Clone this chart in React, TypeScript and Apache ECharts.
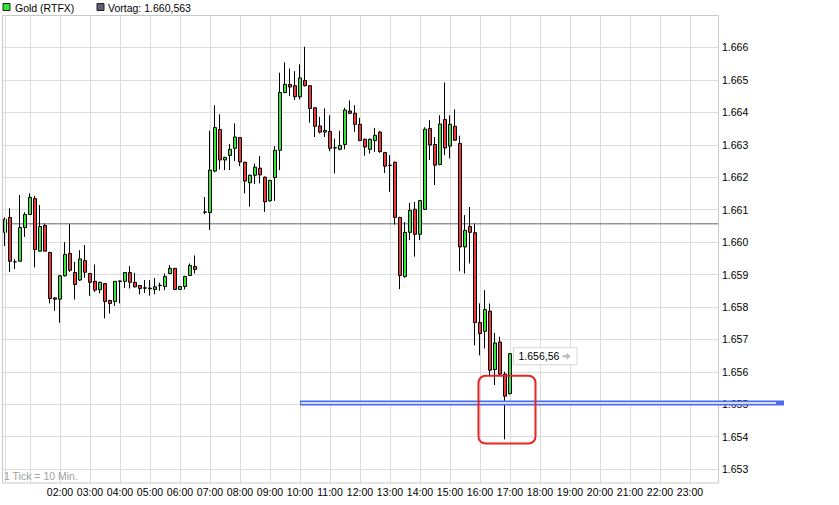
import React, { useEffect, useRef } from 'react';
import * as echarts from 'echarts';

// ---- Data (10-minute candles, Gold RTFX) ----
const times = [
  '00:10','00:20','00:30','00:40','00:50','01:00','01:10','01:20','01:30','01:40','01:50',
  '02:00','02:10','02:20','02:30','02:40','02:50','03:00','03:10','03:20','03:30','03:40','03:50',
  '04:00','04:10','04:20','04:30','04:40','04:50','05:00','05:10','05:20','05:30','05:40','05:50',
  '06:00','06:10','06:20','06:30','06:50',
  '07:00','07:10','07:20','07:30','07:40','07:50','08:00','08:10','08:20','08:30','08:40','08:50',
  '09:00','09:10','09:20','09:30','09:40','09:50','10:00','10:10','10:20','10:30','10:40','10:50',
  '11:00','11:10','11:20','11:30','11:40','11:50','12:00','12:10','12:20','12:30','12:40','12:50',
  '13:00','13:10','13:20','13:30','13:40','13:50','14:00','14:10','14:20','14:30','14:40','14:50',
  '15:00','15:10','15:20','15:30','15:40','15:50','16:00','16:10','16:20','16:30','16:40','16:50',
  '17:00'
];
const opens = [
  1.66030,1.66076,1.65939,1.65941,1.66045,1.66085,1.66134,1.65972,1.66051,1.65968,1.65828,
  1.65824,1.65896,1.65965,1.65906,1.65883,1.65943,1.65903,1.65879,1.65853,1.65872,1.65820,1.65817,
  1.65879,1.65879,1.65906,1.65876,1.65866,1.65859,1.65858,1.65854,1.65866,1.65863,1.65903,1.65919,
  1.65854,1.65863,1.65897,1.65925,1.66092,
  1.66091,1.66219,1.66347,1.66253,1.66267,1.66289,1.66322,1.66246,1.66183,1.66206,1.66228,1.66200,
  1.66127,1.66199,1.66283,1.66461,1.66486,1.66482,1.66448,1.66498,1.66482,1.66414,1.66358,1.66339,
  1.66341,1.66290,1.66286,1.66301,1.66404,1.66397,1.66363,1.66317,1.66286,1.66313,1.66339,1.66276,
  1.66236,1.66246,1.66076,1.65894,1.66030,1.66101,1.66024,1.66101,1.66350,1.66301,1.66239,1.66378,
  1.66296,1.66357,1.66304,1.65985,1.66048,1.66029,1.65752,1.65725,1.65787,1.65607,1.65692,1.65593,
  1.65533
];
const closes = [
  1.66070,1.65941,1.65939,1.66045,1.66085,1.66138,1.65977,1.66048,1.65972,1.65826,1.65824,
  1.65896,1.65962,1.65913,1.65869,1.65948,1.65907,1.65876,1.65852,1.65876,1.65817,1.65811,1.65879,
  1.65880,1.65906,1.65876,1.65862,1.65857,1.65858,1.65856,1.65862,1.65867,1.65894,1.65919,1.65854,
  1.65863,1.65894,1.65928,1.65916,1.66093,
  1.66222,1.66353,1.66253,1.66261,1.66286,1.66324,1.66247,1.66188,1.66206,1.66231,1.66207,1.66124,
  1.66190,1.66283,1.66461,1.66486,1.66478,1.66448,1.66506,1.66482,1.66412,1.66357,1.66339,1.66344,
  1.66289,1.66291,1.66298,1.66407,1.66397,1.66363,1.66313,1.66293,1.66317,1.66329,1.66279,1.66234,
  1.66237,1.66076,1.65897,1.66030,1.66098,1.66024,1.66128,1.66348,1.66299,1.66237,1.66364,1.66290,
  1.66363,1.66314,1.65985,1.66036,1.66030,1.65752,1.65718,1.65792,1.65605,1.65689,1.65593,1.65525,
  1.65656
];
const lows = [
  1.65988,1.65908,1.65917,1.65941,1.66016,1.66085,1.65922,1.65972,1.65972,1.65811,1.65788,
  1.65751,1.65894,1.65908,1.65823,1.65880,1.65890,1.65834,1.65846,1.65842,1.65765,1.65780,1.65803,
  1.65811,1.65859,1.65857,1.65860,1.65839,1.65843,1.65835,1.65839,1.65850,1.65852,1.65901,1.65852,
  1.65852,1.65854,1.65895,1.65903,1.66086,
  1.66037,1.66215,1.66224,1.66222,1.66222,1.66250,1.66234,1.66150,1.66109,1.66179,1.66181,1.66093,
  1.66125,1.66127,1.66222,1.66459,1.66450,1.66438,1.66440,1.66480,1.66368,1.66324,1.66335,1.66324,
  1.66280,1.66212,1.66283,1.66286,1.66395,1.66340,1.66311,1.66266,1.66273,1.66278,1.66275,1.66213,
  1.66155,1.66054,1.65855,1.65890,1.66006,1.65955,1.66006,1.66099,1.66253,1.66176,1.66237,1.66268,
  1.66258,1.66312,1.65910,1.65903,1.65934,1.65682,1.65651,1.65672,1.65590,1.65559,1.65590,1.65392,
  1.65530
];
const highs = [
  1.66076,1.66104,1.65947,1.66145,1.66092,1.66150,1.66142,1.66114,1.66057,1.65970,1.65830,
  1.65898,1.66000,1.66056,1.65939,1.65975,1.65991,1.65905,1.65931,1.65878,1.65874,1.65822,1.65880,
  1.65882,1.65908,1.65926,1.65905,1.65868,1.65883,1.65883,1.65889,1.65875,1.65903,1.65929,1.65920,
  1.65865,1.65896,1.65934,1.65959,1.66139,
  1.66343,1.66422,1.66394,1.66263,1.66302,1.66366,1.66324,1.66248,1.66208,1.66242,1.66265,1.66202,
  1.66192,1.66296,1.66522,1.66554,1.66535,1.66527,1.66548,1.66602,1.66484,1.66416,1.66386,1.66412,
  1.66391,1.66319,1.66343,1.66414,1.66437,1.66422,1.66383,1.66319,1.66319,1.66352,1.66343,1.66278,
  1.66268,1.66248,1.66078,1.66062,1.66121,1.66124,1.66130,1.66354,1.66376,1.66324,1.66391,1.66492,
  1.66391,1.66409,1.66328,1.66083,1.66108,1.66057,1.65811,1.65852,1.65811,1.65720,1.65708,1.65600,
  1.65658
];

const vortag = 1.660563;          // previous day close
const supportLevel = 1.65504;     // drawn blue trend line
const supportFrom = '10:00';
const boxFrom = '15:57';
const boxTo = '17:51';
const boxHigh = 1.65588;
const boxLow = 1.65379;

const X_MIN = 6;       // minutes at left plot edge
const X_MAX = 1436;    // minutes at right plot edge

const FONT = '"Liberation Sans", Arial, sans-serif';
const GRID_COLOR = '#dcdcdc';

const toMin = (t: string) => {
  const [h, m] = t.split(':').map(Number);
  return h * 60 + m;
};
const deFmt = (v: number, dec: number) => {
  const s = (v * 1000).toFixed(dec).replace('.', ',');
  return s.slice(0, 1) + '.' + s.slice(1);
};
const pad = (n: number) => (n < 10 ? '0' + n : '' + n);

export default function App() {
  const ref = useRef<HTMLDivElement>(null);

  useEffect(() => {
    document.body.style.margin = '0';
    if (!ref.current) return;
    const chart = echarts.init(ref.current, null, { renderer: 'svg' });

    const data = times.map((t, i) => [toMin(t), opens[i], closes[i], lows[i], highs[i]]);

    chart.setOption({
      animation: false,
      backgroundColor: '#fff',
      grid: [
        { left: 3, top: 15, width: 715, height: 486.6 },
        { left: 0, top: 15, width: 720, height: 468 },
      ],
      xAxis: [
        { type: 'value', gridIndex: 0, min: X_MIN, max: X_MAX, show: false },
        {
          type: 'value', gridIndex: 1, min: 0, max: 1440, interval: 60,
          axisLine: { show: false }, axisTick: { show: false },
          axisLabel: {
            margin: 3, fontSize: 10.5, color: '#000', fontFamily: FONT,
            showMinLabel: false, showMaxLabel: false,
            formatter: (v: number) => (v >= 120 && v <= 1380 ? pad(Math.round(v / 60)) + ':00' : ''),
          },
          splitLine: { show: true, showMinLine: false, showMaxLine: false, lineStyle: { color: GRID_COLOR, width: 1 } },
        },
      ],
      yAxis: [
        {
          type: 'value', gridIndex: 0, position: 'right', min: 1.652, max: 1.667, interval: 0.001,
          axisLine: { show: false }, axisTick: { show: false },
          axisLabel: {
            showMinLabel: false, showMaxLabel: false, margin: 4,
            fontSize: 10.5, color: '#000', fontFamily: FONT,
            formatter: (v: number) => v.toFixed(3),
          },
          splitLine: { show: true, showMinLine: false, showMaxLine: false, lineStyle: { color: GRID_COLOR, width: 1 } },
        },
        { type: 'value', gridIndex: 1, show: false, min: 0, max: 1 },
      ],
      series: [
        {
          type: 'line',
          xAxisIndex: 0, yAxisIndex: 0,
          data: [[X_MIN, vortag], [X_MAX, vortag]],
          symbol: 'none', silent: true,
          lineStyle: { color: '#5b6378', width: 1 },
          z: 1,
        },
        {
          type: 'candlestick',
          xAxisIndex: 0, yAxisIndex: 0,
          barWidth: 3,
          data,
          z: 3,
          itemStyle: {
            color: '#33e833', color0: '#f03838',
            borderColor: '#000', borderColor0: '#000', borderColorDoji: '#000', borderWidth: 1,
          },
        },
      ],
    });

    const px = (m: number, p: number) => chart.convertToPixel({ gridIndex: 0 }, [m, p]) as number[];
    const lastIdx = times.length - 1;
    const [lx, ly] = px(toMin(times[lastIdx]), closes[lastIdx]);
    const [sx, sy] = px(toMin(supportFrom), supportLevel);
    const [bx1, by1] = px(toMin(boxFrom), boxHigh);
    const [bx2, by2] = px(toMin(boxTo), boxLow);
    const sEnd = 784;
    const ay = ly + 2.5;
    const ax = lx + 52.5;

    chart.setOption({
      graphic: [
        // plot border
        { type: 'rect', silent: true, z: 50, shape: { x: 2.5, y: 15.5, width: 716, height: 467.5 }, style: { fill: 'none', stroke: '#c8c8c8', lineWidth: 1 } },
        { type: 'line', silent: true, z: 50, shape: { x1: 5.5, y1: 15, x2: 5.5, y2: 483 }, style: { stroke: GRID_COLOR, lineWidth: 1 } },
        // legend
        { type: 'rect', silent: true, z: 60, shape: { x: 3, y: 3.5, width: 7, height: 7 }, style: { fill: '#33e833', stroke: '#222', lineWidth: 1 } },
        { type: 'text', silent: true, z: 60, x: 15, y: 7.5, style: { text: 'Gold (RTFX)', font: '10.5px ' + FONT, fill: '#000', verticalAlign: 'middle' } },
        { type: 'rect', silent: true, z: 60, shape: { x: 97, y: 3.5, width: 7, height: 7 }, style: { fill: '#5a6075', stroke: '#222', lineWidth: 1 } },
        { type: 'text', silent: true, z: 60, x: 108, y: 7.5, style: { text: 'Vortag: ' + deFmt(vortag, 3), font: '10.5px ' + FONT, fill: '#000', verticalAlign: 'middle' } },
        // tick info
        { type: 'text', silent: true, z: 60, x: 4, y: 476, style: { text: '1 Tick = 10 Min.', font: '10.5px ' + FONT, fill: '#a0a0a0', verticalAlign: 'middle' } },
        // blue support line
        { type: 'line', silent: true, z: 70, shape: { x1: sx, y1: sy, x2: sEnd, y2: sy }, style: { stroke: '#4a6ce8', lineWidth: 5 } },
        { type: 'line', silent: true, z: 71, shape: { x1: sx + 1, y1: sy, x2: sEnd - 8, y2: sy }, style: { stroke: '#ffffff', lineWidth: 1.6 } },
        // red highlight box
        { type: 'rect', silent: true, z: 72, shape: { x: bx1, y: by1, width: bx2 - bx1, height: by2 - by1, r: 7 }, style: { fill: 'none', stroke: '#e82424', lineWidth: 2 } },
        // last price label
        { type: 'rect', silent: true, z: 80, shape: { x: lx + 3.5, y: ly - 6, width: 63.5, height: 17 }, style: { fill: '#fff', stroke: '#d6d6d6', lineWidth: 1 } },
        { type: 'text', silent: true, z: 81, x: lx + 8.5, y: ay, style: { text: deFmt(closes[lastIdx], 2), font: '10.5px ' + FONT, fill: '#000', verticalAlign: 'middle' } },
        {
          type: 'polygon', silent: true, z: 81,
          shape: { points: [[ax, ay - 1], [ax + 4, ay - 1], [ax + 4, ay - 3.5], [ax + 8, ay], [ax + 4, ay + 3.5], [ax + 4, ay + 1], [ax, ay + 1]] },
          style: { fill: '#b8b8b8' },
        },
      ],
    });

    return () => chart.dispose();
  }, []);

  return <div ref={ref} style={{ width: 839, height: 505 }} />;
}
